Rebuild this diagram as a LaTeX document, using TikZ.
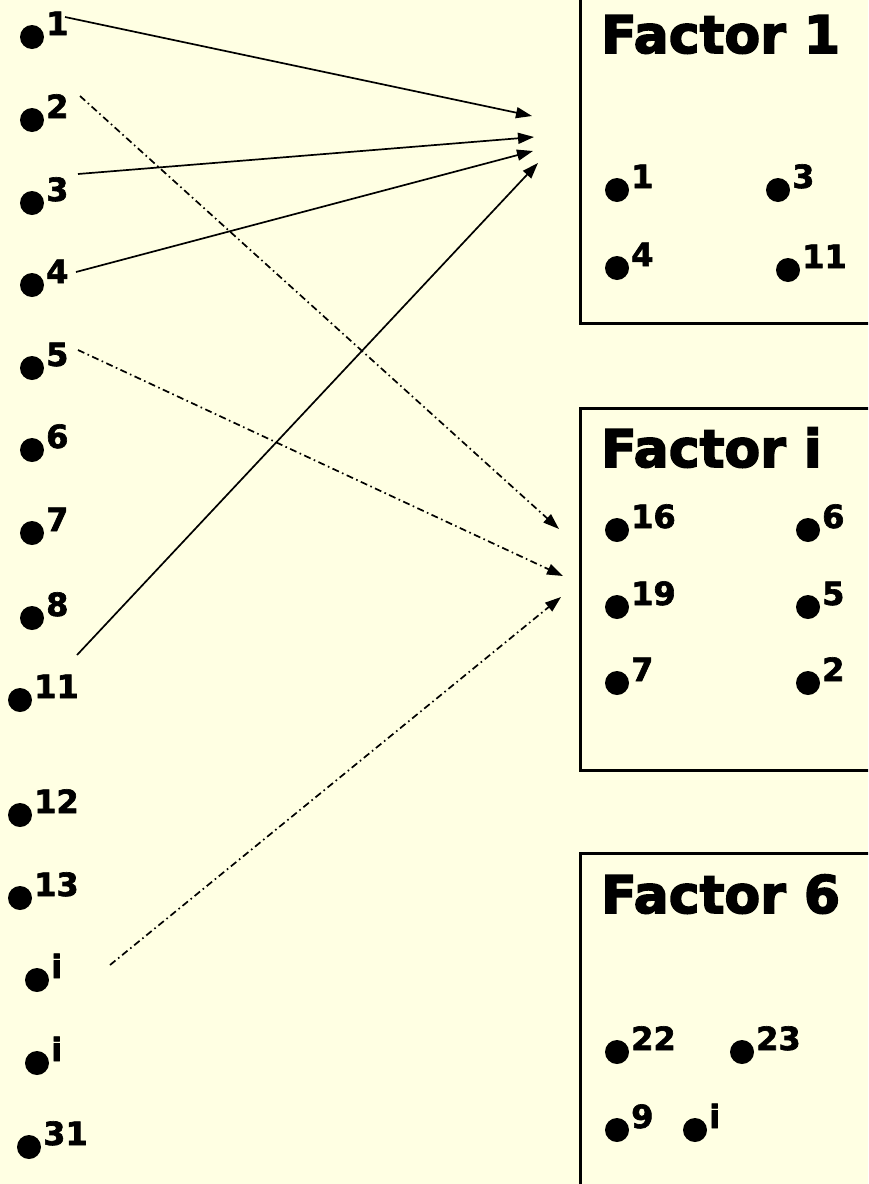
\documentclass[tikz,border=0pt]{standalone}
\usepackage{fontspec}
\setmainfont{DejaVu Sans}
\usetikzlibrary{arrows.meta}
\definecolor{bg}{HTML}{FFFFE3}
\newfontfamily\heavyfont{DejaVu Sans}[FakeBold=3]
\newfontfamily\numheavy{DejaVu Sans}[FakeBold=2]
\newcommand\numfont{\fontsize{32}{32}\selectfont\numheavy\bfseries}
\newcommand\titlefont{\fontsize{52}{52}\selectfont\heavyfont\bfseries}
\newcommand\bul[4]{%
  \node[dotn] (#1) at (#2,#3) {};
  \node[lab] (#1l) at ([xshift=14pt,yshift=2pt]#1.center) {#4};}
\tikzset{
  dotn/.style={circle, fill=black, inner sep=0pt, minimum size=24pt},
  lab/.style={anchor=base west, inner sep=0pt, font=\numfont},
  ttl/.style={anchor=base west, inner sep=0pt, font=\titlefont},
  frame/.style={line width=3pt},
  conn/.style={line width=1.7pt, -{Triangle[length=16pt,width=11pt]}},
  dashconn/.style={conn, dash pattern=on 7pt off 3.5pt on 1.6pt off 3.5pt}
}
\begin{document}
\begin{tikzpicture}[x=1pt,y=-1pt]
\useasboundingbox (0,0) rectangle (868,1184);
\clip (0,0) rectangle (868,1184);
\fill[bg] (0,0) rectangle (868,1184);
% boxes
\draw[frame] (900,323) -- (580,323) -- (580,-20);
\draw[frame] (900,408) -- (580,408) -- (580,770) -- (900,770);
\draw[frame] (900,853) -- (580,853) -- (580,1200);
% titles
\node[ttl] (F1) at (601,53) {Factor 1};
\node[ttl] (Fi) at (601,467) {Factor i};
\node[ttl] (F6) at (601,913) {Factor 6};
% left list
\bul{a1}{32}{37}{1}
\bul{a2}{32}{120}{2}
\bul{a3}{32}{203}{3}
\bul{a4}{32}{285}{4}
\bul{a5}{32}{368}{5}
\bul{a6}{32}{450}{6}
\bul{a7}{32}{533}{7}
\bul{a8}{32}{618}{8}
\bul{a11}{20}{700}{11}
\bul{a12}{20}{815}{12}
\bul{a13}{20}{898}{13}
\bul{ai}{37}{980}{i}
\bul{aj}{37}{1063}{i}
\bul{a31}{29}{1147}{31}
% factor 1
\bul{b1}{617}{190}{1}
\bul{b3}{778}{190}{3}
\bul{b4}{617}{268}{4}
\bul{b11}{788}{270}{11}
% factor i
\bul{c16}{617}{530}{16}
\bul{c6}{808}{530}{6}
\bul{c19}{617}{607}{19}
\bul{c5}{808}{607}{5}
\bul{c7}{617}{683}{7}
\bul{c2}{808}{683}{2}
% factor 6
\bul{d22}{617}{1052}{22}
\bul{d23}{742}{1052}{23}
\bul{d9}{617}{1130}{9}
\bul{di}{695}{1130}{i}
% connector end points
\coordinate (s1) at (65,17);
\coordinate (s3) at (78,174);
\coordinate (s4) at (76,272);
\coordinate (s11) at (77,655);
\coordinate (s2) at (80,96);
\coordinate (s5) at (78,350);
\coordinate (si) at (110,965);
\coordinate (t1) at (532,116);
\coordinate (t3) at (534,137);
\coordinate (t4) at (533,151);
\coordinate (t11) at (538,163);
\coordinate (t2) at (559,529);
\coordinate (t5) at (563,576);
\coordinate (ti) at (561,597);
\draw[conn] (s1) -- (t1);
\draw[conn] (s3) -- (t3);
\draw[conn] (s4) -- (t4);
\draw[conn] (s11) -- (t11);
\draw[dashconn] (s2) -- (t2);
\draw[dashconn] (s5) -- (t5);
\draw[dashconn] (si) -- (ti);
\end{tikzpicture}
\end{document}
